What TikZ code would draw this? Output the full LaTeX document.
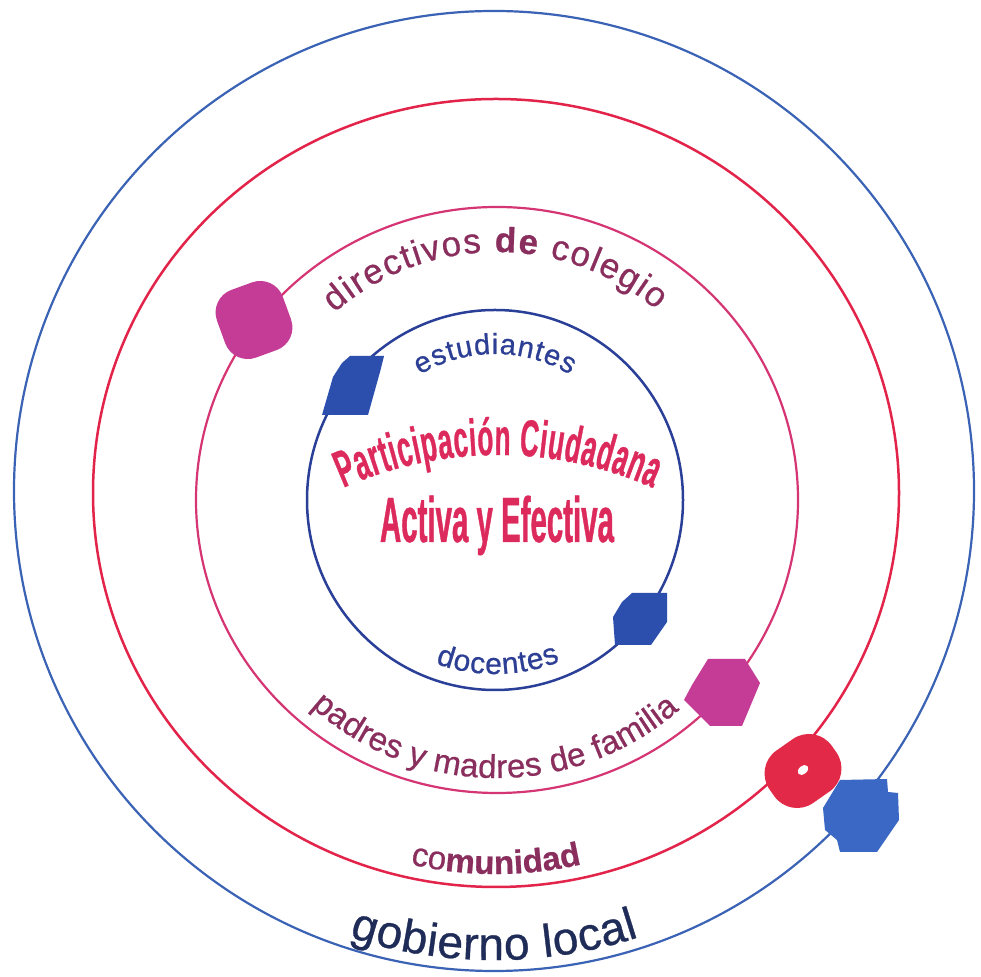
\documentclass[tikz,border=0pt]{standalone}
\usepackage{fontspec}
\setmainfont{Liberation Sans}
\newfontfamily\arcfont[FakeBold=0.7]{Liberation Sans}
\newfontfamily\condA[FakeStretch=0.5,FakeBold=0.6]{Liberation Sans}
\newfontfamily\condB[FakeStretch=0.46,FakeBold=0.6]{Liberation Sans}
\usetikzlibrary{decorations.text}
\definecolor{outerblue}{HTML}{3A62B5}
\definecolor{ringred}{HTML}{E3244A}
\definecolor{ringmag}{HTML}{D63574}
\definecolor{innerblue}{HTML}{2A3F98}
\definecolor{maroontext}{HTML}{8A2E5E}
\definecolor{bluetext}{HTML}{2C3F94}
\definecolor{navytext}{HTML}{1F2C58}
\definecolor{centerred}{HTML}{DC2A5C}
\definecolor{magblob}{HTML}{C43C95}
\definecolor{hexblue}{HTML}{2C4FAE}
\definecolor{redblob}{HTML}{E22A48}
\definecolor{octblue}{HTML}{3A68C4}
\tikzset{
  ring/.style={line width=2.2pt},
  blob/.style={draw=none, inner sep=0pt},
}
\begin{document}
\begin{tikzpicture}[x=1pt,y=1pt]
\useasboundingbox (0,0) rectangle (981,976);
\fill[white] (0,0) rectangle (981,976);
% rings
\draw[ring, outerblue] (494,485) circle (480);
\draw[ring, ringred, line width=2.5pt] (496,483) ellipse (403 and 394);
\draw[ring, ringmag, line width=2.2pt] (497,476) ellipse (301 and 293);
\draw[ring, innerblue, line width=2.5pt] (495,476) ellipse (188 and 190);
% blobs
\node[blob, fill=magblob, minimum width=70pt, minimum height=72pt, rounded corners=24pt, rotate=20] (b1) at (254,656) {};
\fill[hexblue] (350,620) -- (384,620) -- (380,604) -- (368,561) -- (322,561) -- (333,599) -- (342,613) -- cycle;
\fill[hexblue] (622,374) -- (632,383) -- (667,383) -- (667,354) -- (651,331) -- (615,331) -- (613,359) -- cycle;
\fill[magblob] (708,317) -- (745,317) -- (760,293) -- (742,250) -- (710,250) -- (684,276) -- (692,291) -- cycle;
\node[blob, fill=redblob, minimum width=76pt, minimum height=64pt, rounded corners=28pt, rotate=35] (b5) at (803,205) {};
\fill[white, rotate around={40:(803,206)}] (803,206) ellipse (6 and 4);
\fill[octblue] (840,196) -- (887,197) -- (888,184) -- (898,183) -- (899,156) -- (877,124) -- (840,124) -- (837,136) -- (825,146) -- (823,168) -- cycle;
% arc texts
\path[decorate, decoration={text along path, text align=fit to path,
  text={|\arcfont\fontsize{35}{40}\selectfont\color{maroontext}|directivos |\arcfont\fontsize{35}{40}\selectfont\bfseries\color{maroontext}|de|\arcfont\fontsize{35}{40}\selectfont\mdseries\color{maroontext}| colegio}}]
  (497,476) ++(131:248) arc[start angle=131, end angle=50, radius=248];
\path[decorate, decoration={text along path, text align=fit to path,
  text={|\arcfont\fontsize{29}{33}\selectfont\color{bluetext}|estudiantes}}]
  (495,476) ++(121:146) arc[start angle=121, end angle=59, radius=146];
\path[decorate, decoration={text along path, text align=fit to path,
  text={|\arcfont\fontsize{30}{34}\selectfont\color{bluetext}|docentes}}]
  (495,476) ++(250:174) arc[start angle=250, end angle=292, radius=174];
\path[decorate, decoration={text along path, text align=fit to path,
  text={|\arcfont\fontsize{33}{38}\selectfont\color{maroontext}|padres y madres de familia}}]
  (497,476) ++(228:278) arc[start angle=228, end angle=311, radius=278];
\path[decorate, decoration={text along path, text align=fit to path,
  text={|\arcfont\fontsize{33}{38}\selectfont\color{maroontext}|co|\arcfont\fontsize{33}{38}\selectfont\bfseries\color{maroontext}|munidad}}]
  (496,483) ++(257:381) arc[start angle=257, end angle=283, radius=381];
\path[decorate, decoration={text along path, text align=fit to path,
  text={|\arcfont\fontsize{46}{52}\selectfont\color{navytext}|gobierno local}}]
  (494,485) ++(252:469) arc[start angle=252, end angle=288, radius=469];
% centre title
\path[decorate, decoration={text along path, text align=fit to path,
  text={|\condA\bfseries\fontsize{52}{60}\selectfont\color{centerred}|Participación Ciudadana}}]
  (498,141) ++(114:380) arc[start angle=114, end angle=66, radius=380];
\node[anchor=base, inner sep=0pt, text=centerred, font=\condB\bfseries\fontsize{64}{70}\selectfont] (title2) at (497,434) {Activa y Efectiva};
\end{tikzpicture}
\end{document}
